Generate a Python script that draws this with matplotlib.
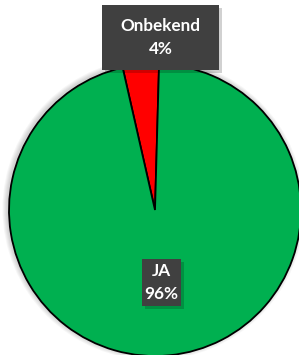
import matplotlib.pyplot as plt
from matplotlib.patches import Rectangle, Circle

labels = ["Onbekend", "JA"]
values = [4, 96]
colors = ["#FF0000", "#00B050"]

W, H = 299, 355
cx, cy, r = 155, 210, 146  # pie centre / radius in pixels

fig = plt.figure(figsize=(W / 100, H / 100), dpi=100)
ax = fig.add_axes([0, 0, 1, 1])

# faint soft shadow behind the pie
for k in range(1, 6):
    ax.add_patch(Circle((-1.5 / r, 1 / r), 1 + k * 1.0 / r, facecolor="#000000",
                        alpha=0.035, lw=0, zorder=0))

ax.pie(values, colors=colors, startangle=88.4, counterclock=True,
       wedgeprops=dict(edgecolor="black", linewidth=1.3))
ax.set_xlim(-cx / r, (W - cx) / r)
ax.set_ylim(-(H - cy) / r, cy / r)
ax.set_aspect("auto")
ax.axis("off")


def px(x, y):
    return (x - cx) / r, (cy - y) / r


def label_box(x0, y0, x1, y1, text):
    (ax0, ay1), (ax1, ay0) = px(x0, y0), px(x1, y1)
    # soft drop shadow
    sx, sy = 3 / r, -3 / r
    ax.add_patch(Rectangle((ax0 + sx, ay0 + sy), ax1 - ax0, ay1 - ay0,
                           facecolor="#000000", alpha=0.18, lw=0, zorder=5))
    ax.add_patch(Rectangle((ax0, ay0), ax1 - ax0, ay1 - ay0,
                           facecolor="#404040", lw=0, zorder=6))
    ax.text((ax0 + ax1) / 2, (ay0 + ay1) / 2, text, ha="center", va="center",
            color="white", fontsize=12.3, fontweight="bold", family="Lato",
            linespacing=1.6, zorder=7)


label_box(102, 5, 219, 70, f"{labels[0]}\n{values[0]}%")
label_box(142, 259, 181, 306, f"{labels[1]}\n{values[1]}%")

fig.savefig("out.png", dpi=100)
